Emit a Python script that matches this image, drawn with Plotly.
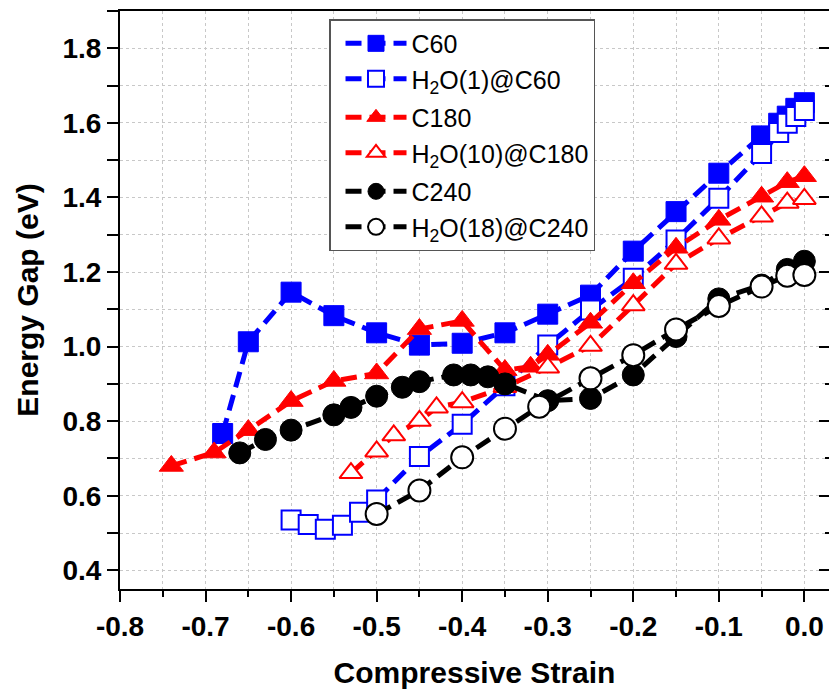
import plotly.graph_objects as go

# ---- data ----
c60_x = [-0.68, -0.65, -0.60, -0.55, -0.50, -0.45, -0.40, -0.35, -0.30, -0.25, -0.20, -0.15, -0.10, -0.05, -0.03, -0.02, -0.01, 0.00]
c60_y = [0.767, 1.013, 1.146, 1.083, 1.037, 1.004, 1.009, 1.037, 1.087, 1.138, 1.256, 1.362, 1.465, 1.565, 1.599, 1.618, 1.639, 1.654]

h2o1_x = [-0.60, -0.58, -0.56, -0.54, -0.52, -0.50, -0.45, -0.40, -0.35, -0.30, -0.25, -0.20, -0.15, -0.10, -0.05, -0.03, -0.02, -0.01, 0.00]
h2o1_y = [0.535, 0.523, 0.510, 0.521, 0.556, 0.589, 0.705, 0.792, 0.895, 1.004, 1.098, 1.183, 1.286, 1.398, 1.518, 1.574, 1.599, 1.617, 1.633]

c180_x = [-0.74, -0.69, -0.65, -0.60, -0.55, -0.50, -0.45, -0.40, -0.35, -0.32, -0.30, -0.25, -0.20, -0.15, -0.10, -0.05, -0.02, 0.00]
c180_y = [0.680, 0.716, 0.776, 0.854, 0.908, 0.928, 1.047, 1.069, 0.937, 0.946, 0.978, 1.064, 1.170, 1.265, 1.340, 1.402, 1.441, 1.457]

h2o10_x = [-0.53, -0.50, -0.48, -0.45, -0.43, -0.40, -0.35, -0.30, -0.25, -0.20, -0.15, -0.10, -0.05, -0.02, 0.00]
h2o10_y = [0.661, 0.719, 0.762, 0.801, 0.837, 0.851, 0.892, 0.944, 1.002, 1.111, 1.222, 1.290, 1.349, 1.386, 1.396]

c240_x = [-0.66, -0.63, -0.60, -0.55, -0.53, -0.50, -0.47, -0.45, -0.41, -0.39, -0.37, -0.35, -0.30, -0.25, -0.20, -0.15, -0.10, -0.05, -0.02, 0.00]
c240_y = [0.715, 0.751, 0.776, 0.817, 0.837, 0.867, 0.891, 0.906, 0.924, 0.924, 0.919, 0.900, 0.855, 0.861, 0.924, 1.027, 1.128, 1.165, 1.207, 1.229]

h2o18_x = [-0.50, -0.45, -0.40, -0.35, -0.31, -0.25, -0.20, -0.15, -0.10, -0.05, -0.02, 0.00]
h2o18_y = [0.551, 0.614, 0.703, 0.780, 0.839, 0.915, 0.977, 1.046, 1.109, 1.161, 1.190, 1.192]

names = ["C60", "H<sub>2</sub>O(1)@C60", "C180", "H<sub>2</sub>O(10)@C180", "C240", "H<sub>2</sub>O(18)@C240"]

x_tickvals = [-0.8, -0.7, -0.6, -0.5, -0.4, -0.3, -0.2, -0.1, 0.0]
x_ticktext = ["-0.8", "-0.7", "-0.6", "-0.5", "-0.4", "-0.3", "-0.2", "-0.1", "0.0"]
y_tickvals = [0.4, 0.6, 0.8, 1.0, 1.2, 1.4, 1.6, 1.8]
y_ticktext = ["0.4", "0.6", "0.8", "1.0", "1.2", "1.4", "1.6", "1.8"]

FONT = "Liberation Sans, Arial, sans-serif"
DASH = "16px,8px"

fig = go.Figure()

def add(x, y, name, color, symbol, filled, size, group):
    fig.add_trace(go.Scatter(
        x=x, y=y, name=name, mode="lines+markers", legendgroup=group,
        line=dict(color=color, width=5, dash=DASH),
        marker=dict(symbol=symbol, size=size,
                    color=color if filled else "white",
                    line=dict(color=color, width=1 if filled else 2)),
    ))

add(c60_x, c60_y, names[0], "#0000FF", "square", True, 20, "g1")
add(h2o1_x, h2o1_y, names[1], "#0000FF", "square", False, 19, "g1")
add(c180_x, c180_y, names[2], "#FF0000", "triangle-up", True, 21, "g2")
add(h2o10_x, h2o10_y, names[3], "#FF0000", "triangle-up", False, 20, "g2")
add(c240_x, c240_y, names[4], "#000000", "circle", True, 22, "g3")
add(h2o18_x, h2o18_y, names[5], "#000000", "circle", False, 22, "g3")

# helper trace for right-side mirrored axis
fig.add_trace(go.Scatter(x=[None], y=[None], yaxis="y2", showlegend=False, hoverinfo="skip"))

YR = [0.35, 1.9]
XR = [-0.8, 0.0288]

fig.update_layout(
    width=829, height=689,
    margin=dict(l=120, r=0, t=11, b=100),
    paper_bgcolor="white", plot_bgcolor="white",
    font=dict(family=FONT, color="black"),
    showlegend=True,
    legend=dict(
        x=0.2948, y=0.986, xanchor="left", yanchor="top",
        bgcolor="white", bordercolor="#555555", borderwidth=1.5,
        font=dict(family=FONT, size=25, color="black"),
        traceorder="grouped", tracegroupgap=3, itemwidth=61, indentation=10,
    ),
    xaxis=dict(
        range=XR, tickmode="array", tickvals=x_tickvals, ticktext=x_ticktext,
        ticks="outside", ticklen=11, tickwidth=2, tickcolor="black",
        showline=True, linewidth=2, linecolor="black", mirror=True,
        showgrid=False, zeroline=False, automargin=False,
        tickfont=dict(family=FONT, size=28, weight="bold"),
        minor=dict(tickmode="linear", tick0=0, dtick=0.05, ticks="outside", ticklen=6, tickwidth=2, tickcolor="black",
                   showgrid=True, gridcolor="#c8c8c8", gridwidth=1, griddash="dot"),
        title=dict(text="Compressive Strain", standoff=25,
                   font=dict(family=FONT, size=30, weight="bold")),
    ),
    yaxis=dict(
        range=YR, tickmode="array", tickvals=y_tickvals, ticktext=y_ticktext,
        ticks="outside", ticklen=11, tickwidth=2, tickcolor="black",
        showline=True, linewidth=2, linecolor="black",
        showgrid=False, zeroline=False, automargin=False,
        tickfont=dict(family=FONT, size=28, weight="bold"),
        minor=dict(tickmode="linear", tick0=0, dtick=0.1, ticks="outside", ticklen=11, tickwidth=2, tickcolor="black",
                   showgrid=True, gridcolor="#c8c8c8", gridwidth=1, griddash="dot"),
        title=dict(text="Energy Gap (eV)", font=dict(family=FONT, size=30, weight="bold")),
    ),
    yaxis2=dict(
        range=YR, overlaying="y", side="right", anchor="x",
        tick0=0, dtick=0.2, ticks="inside", ticklen=10, tickwidth=2, tickcolor="black",
        showticklabels=False, showline=True, linewidth=2, linecolor="black",
        showgrid=False, zeroline=False,
        minor=dict(dtick=0.1, ticks="inside", ticklen=4, tickwidth=2, tickcolor="black"),
    ),
)

fig.write_html("out.html", config={"displayModeBar": False},
               post_script="document.body.style.margin='0';document.body.style.overflow='hidden';")
